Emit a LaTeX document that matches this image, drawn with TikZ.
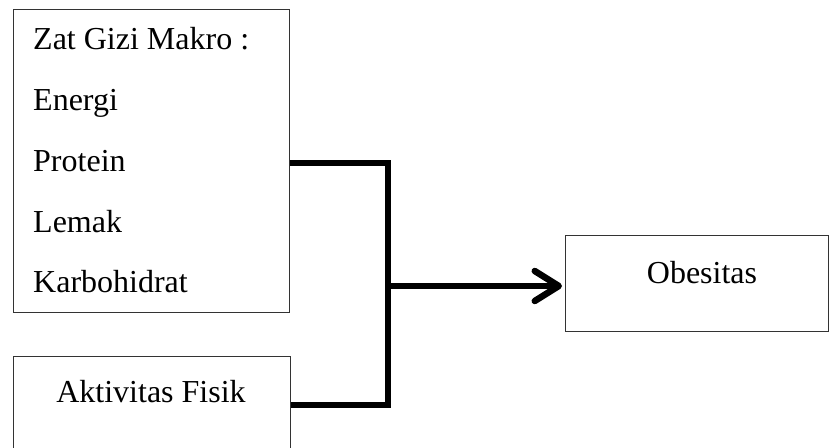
\documentclass[tikz,border=0pt]{standalone}
\usepackage{fontspec}
\setmainfont{Liberation Serif}
\usetikzlibrary{arrows.meta}
\begin{document}
\begin{tikzpicture}[x=1pt,y=-1pt,
  box/.style={draw=black!80,line width=1.2pt,rectangle,anchor=north west,inner sep=0pt},
  txt/.style={anchor=base west,inner sep=0pt,font=\fontsize{32}{36}\selectfont},
  ctxt/.style={anchor=base,inner sep=0pt,font=\fontsize{32}{36}\selectfont},
  conn/.style={line width=6.5pt,black,line join=miter},
  shadow/.style={line width=6pt,black!22,line join=miter}]
\useasboundingbox (0,0) rectangle (829,447);
\clip (0,0) rectangle (829,447);
% boxes
\node[box,minimum width=276pt,minimum height=303pt] (zat) at (13,9) {};
\node[box,minimum width=277pt,minimum height=100pt] (akt) at (13,356) {};
\node[box,minimum width=263pt,minimum height=96pt] (obes) at (565,235) {};
% texts
\node[txt] (t1) at (33,49) {Zat Gizi Makro :};
\node[txt] (t2) at (33,110) {Energi};
\node[txt] (t3) at (33,171) {Protein};
\node[txt] (t4) at (33,232) {Lemak};
\node[txt] (t5) at (33,292) {Karbohidrat};
\node[ctxt] (t6) at (151,402) {Aktivitas Fisik};
\node[ctxt] (t7) at (702,283) {Obesitas};
% connector coordinates
\coordinate (a1) at (zat.east |- 0,163);
\coordinate (j1) at (388,163);
\coordinate (j2) at (388,405);
\coordinate (a2) at (akt.east |- 0,405);
\coordinate (jm) at (388,286);
\coordinate (tip) at ([xshift=-3pt]obes.west |- 0,286);
% shadows
\begin{scope}[shift={(3,5)}]
\draw[shadow] (a1) -- (j1) -- (j2) -- (a2);
\draw[shadow] (jm) -- ([xshift=-30pt]tip);
\end{scope}
% connectors
\draw[conn] (a1) -- (j1) -- (j2) -- (a2);
\draw[conn,-{Straight Barb[length=24pt,width=30pt,round]}] (jm) -- (tip);
\end{tikzpicture}
\end{document}
